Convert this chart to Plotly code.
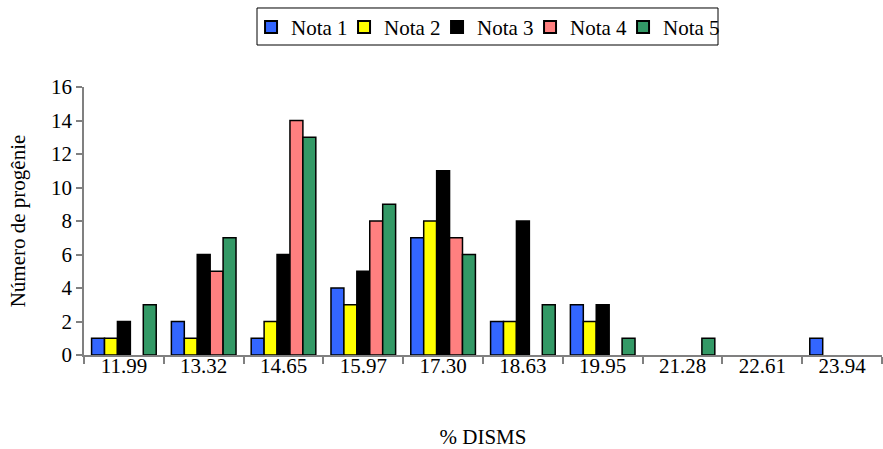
import plotly.graph_objects as go

# Classes de % DISMS
categorias = ["11.99", "13.32", "14.65", "15.97", "17.30",
              "18.63", "19.95", "21.28", "22.61", "23.94"]

# Número de progênies por nota
nota1 = [1, 2, 1, 4, 7, 2, 3, 0, 0, 1]
nota2 = [1, 1, 2, 3, 8, 2, 2, 0, 0, 0]
nota3 = [2, 6, 6, 5, 11, 8, 3, 0, 0, 0]
nota4 = [0, 5, 14, 8, 7, 0, 0, 0, 0, 0]
nota5 = [3, 7, 13, 9, 6, 3, 1, 1, 0, 0]

series = [
    ("Nota 1", nota1, "#3366FF"),
    ("Nota 2", nota2, "#FFFF00"),
    ("Nota 3", nota3, "#000000"),
    ("Nota 4", nota4, "#FF8080"),
    ("Nota 5", nota5, "#339966"),
]

font = "Liberation Serif"
fs = 21

fig = go.Figure()
for nome, valores, cor in series:
    # sem contorno nas barras de valor zero
    larguras = [1.5 if v > 0 else 0 for v in valores]
    fig.add_trace(go.Bar(
        name=nome, x=categorias, y=valores,
        marker=dict(color=cor, line=dict(color="#000000", width=larguras)),
    ))

# entrada invisível que só alarga a área da legenda (evita cortar "Nota 5")
fig.add_trace(go.Scatter(
    x=[None], y=[None], name=" ", mode="markers", hoverinfo="skip",
    marker=dict(color="rgba(0,0,0,0)", size=1),
))

# moldura da legenda
fig.add_shape(
    type="rect", xref="paper", yref="paper",
    x0=0.2168, x1=0.7945, y0=1.1567, y1=1.2948,
    line=dict(color="#000000", width=1), fillcolor="rgba(0,0,0,0)",
)

fig.update_layout(
    width=883, height=449,
    margin=dict(l=84, r=1, t=87, b=94),
    paper_bgcolor="white", plot_bgcolor="white",
    barmode="group", bargap=0.19, bargroupgap=0,
    font=dict(family=font, size=fs, color="#000000"),
    showlegend=True,
    legend=dict(
        orientation="h", x=0.2843, xanchor="left", xref="container",
        y=0.985, yanchor="top", yref="container",
        bgcolor="rgba(0,0,0,0)", borderwidth=0,
        font=dict(family=font, size=fs),
        itemsizing="constant", itemwidth=30,
        entrywidth=48, entrywidthmode="pixels",
        traceorder="normal",
    ),
    xaxis=dict(
        type="category", range=[-0.5, 9.5],
        showline=True, linecolor="#808080", linewidth=1.5,
        ticks="outside", tickson="boundaries", ticklen=7,
        tickcolor="#808080", tickwidth=1.5,
        ticklabelstandoff=-9,
        showgrid=False, zeroline=False,
        tickfont=dict(family=font, size=fs),
        title=dict(text="% DISMS", standoff=52,
                   font=dict(family=font, size=fs)),
    ),
    yaxis=dict(
        range=[0, 16], dtick=2,
        showline=True, linecolor="#808080", linewidth=1.5,
        ticks="outside", ticklen=6, tickcolor="#808080", tickwidth=1.5,
        showgrid=False, zeroline=False,
        tickfont=dict(family=font, size=fs),
        title=dict(text="Número de progênie", standoff=20,
                   font=dict(family=font, size=fs)),
    ),
)

fig.write_html("out.html")
